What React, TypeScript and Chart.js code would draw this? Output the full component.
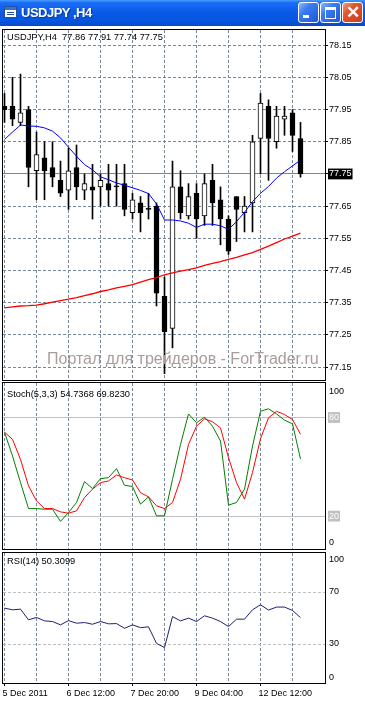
import React, { useEffect, useRef } from 'react';
import { Chart, registerables } from 'chart.js';

Chart.register(...registerables);

// ---------- data ----------
const dateLabels = ['5 Dec 2011', '6 Dec 12:00', '7 Dec 20:00', '9 Dec 04:00', '12 Dec 12:00'];
const dateLabelBars = [0, 8, 16, 24, 32];
const gridBars = [0, 4, 8, 12, 16, 20, 24, 28, 32, 36];

const opens = [77.96, 77.96, 77.91, 77.95, 77.76, 77.80, 77.77, 77.73, 77.70, 77.77, 77.70, 77.71, 77.71, 77.72, 77.71, 77.72, 77.63, 77.66, 77.64, 77.65, 77.37, 77.27, 77.71, 77.62, 77.69, 77.62, 77.73, 77.67, 77.61, 77.68, 77.63, 77.66, 77.86, 77.96, 77.85, 77.92, 77.94, 77.86];
const highs = [78.00, 78.05, 78.06, 77.96, 77.88, 77.85, 77.85, 77.79, 77.83, 77.84, 77.75, 77.78, 77.75, 77.78, 77.78, 77.78, 77.69, 77.68, 77.69, 77.66, 77.43, 77.79, 77.76, 77.72, 77.72, 77.75, 77.78, 77.71, 77.62, 77.68, 77.68, 77.87, 78.00, 77.98, 77.96, 77.96, 77.95, 77.91];
const lows = [77.91, 77.90, 77.90, 77.71, 77.67, 77.67, 77.71, 77.68, 77.64, 77.67, 77.67, 77.61, 77.65, 77.65, 77.65, 77.62, 77.61, 77.57, 77.61, 77.34, 77.13, 77.21, 77.61, 77.61, 77.55, 77.59, 77.59, 77.53, 77.50, 77.54, 77.57, 77.57, 77.75, 77.73, 77.83, 77.87, 77.82, 77.74];
const closes = [77.95, 77.92, 77.94, 77.77, 77.81, 77.76, 77.74, 77.69, 77.76, 77.71, 77.72, 77.70, 77.73, 77.70, 77.71, 77.64, 77.67, 77.63, 77.64, 77.38, 77.26, 77.71, 77.63, 77.68, 77.61, 77.72, 77.66, 77.61, 77.51, 77.64, 77.65, 77.85, 77.97, 77.86, 77.93, 77.93, 77.87, 77.75];

const maFast = [77.857, 77.880, 77.902, 77.899, 77.898, 77.893, 77.883, 77.862, 77.833, 77.805, 77.779, 77.763, 77.741, 77.732, 77.722, 77.715, 77.707, 77.699, 77.689, 77.657, 77.607, 77.607, 77.604, 77.597, 77.584, 77.594, 77.594, 77.589, 77.578, 77.602, 77.631, 77.664, 77.690, 77.711, 77.737, 77.757, 77.775, 77.793];
const maSlow = [77.334, 77.337, 77.340, 77.341, 77.343, 77.347, 77.352, 77.357, 77.361, 77.366, 77.372, 77.378, 77.385, 77.390, 77.396, 77.401, 77.406, 77.414, 77.422, 77.428, 77.437, 77.443, 77.448, 77.453, 77.458, 77.466, 77.472, 77.478, 77.485, 77.491, 77.499, 77.506, 77.516, 77.526, 77.537, 77.548, 77.557, 77.566];

const stochMain = [71, 56.6, 40.4, 24.6, 24.6, 24.2, 24.2, 16.8, 22.2, 28.3, 41, 36.8, 42.8, 43.4, 48.9, 38.8, 38, 27.3, 31.7, 20.2, 20.2, 42.4, 63.6, 82.2, 76.8, 80.2, 74.7, 65.7, 26.7, 28.3, 36.4, 62.6, 83.8, 85.3, 82.2, 78.4, 76.2, 54.7368];
const stochSignal = [71.1, 66.7, 54.5, 38.4, 29.3, 24.6, 24.6, 22.6, 21.8, 23.2, 31.3, 36.4, 40.4, 41.4, 45, 43.4, 42, 34.3, 31.7, 26.3, 24.6, 28.3, 42.4, 63.6, 74.7, 79.2, 77.4, 73.7, 55.6, 40.4, 30.3, 46.5, 67.1, 79.8, 83.8, 81.8, 78.8, 69.823];
const rsiValues = [57.6, 56.3, 56.8, 48.6, 50.4, 47.8, 47.3, 44.7, 48, 46, 46.5, 45.2, 47.3, 45.5, 45.7, 42.1, 44.7, 42.6, 43.2, 30.5, 27.2, 51.1, 47.8, 49.9, 47.3, 51.7, 49.9, 47.3, 43.4, 49.1, 49.1, 56.3, 60.2, 56.1, 58.4, 58.4, 55.8, 50.3099];

const priceTicks = [78.15, 78.05, 77.95, 77.85, 77.75, 77.65, 77.55, 77.45, 77.35, 77.25, 77.15];
const stochTicks = [0, 20, 80, 100];
const stochLevels = [20, 80];
const rsiTicks = [0, 30, 70, 100];
const rsiLevels = [30, 70];

const symbolTitle = 'USDJPY ,H4';
const mainLabel = 'USDJPY,H4  77.86 77.91 77.74 77.75';
const stochLabel = 'Stoch(5,3,3) 54.7368 69.8230';
const rsiLabel = 'RSI(14) 50.3099';
const watermark = 'Портал для трейдеров - ForTrader.ru';

// ---------- styling ----------
const FONT = '"Liberation Sans", Arial, sans-serif';
const GRID = '#778899';
const LEVEL = '#c0c0c0';
const X_MIN = -0.1875;
const X_MAX = 40.0625;
const lastClose = closes[closes.length - 1];

const frame = {
  id: 'frame',
  afterDraw(chart: any) {
    const { ctx, chartArea: a } = chart;
    ctx.save();
    ctx.strokeStyle = '#000';
    ctx.lineWidth = 1;
    ctx.strokeRect(a.left - 0.5, a.top - 0.5, a.right - a.left + 1, a.bottom - a.top + 1);
    ctx.restore();
  },
};

function zeroPad(s: any) {
  s.paddingTop = 0;
  s.paddingBottom = 0;
  s.paddingLeft = 0;
  s.paddingRight = 0;
}

function xScale(showLabels: boolean): any {
  return {
    type: 'linear',
    min: X_MIN,
    max: X_MAX,
    offset: false,
    afterBuildTicks: (s: any) => {
      s.ticks = gridBars.map((v) => ({ value: v }));
    },
    afterFit: (s: any) => {
      s.height = showLabels ? 20 : 0;
      zeroPad(s);
    },
    grid: {
      offset: false,
      color: GRID,
      lineWidth: 1,
      drawTicks: showLabels,
      tickLength: 3,
      tickBorderDash: [],
      tickColor: (c: any) => (c.tick && dateLabelBars.indexOf(c.tick.value) >= 0 ? '#000' : 'rgba(0,0,0,0)'),
    },
    border: { display: false, dash: [3, 2] },
    ticks: {
      display: showLabels,
      autoSkip: false,
      maxRotation: 0,
      minRotation: 0,
      align: 'start',
      labelOffset: -2,
      padding: 2,
      color: '#000',
      font: { family: FONT, size: 9 },
      callback: (v: any) => {
        const k = dateLabelBars.indexOf(v);
        return k >= 0 ? dateLabels[k] : '';
      },
    },
  };
}

function pts(arr: number[]) {
  return arr.map((y, i) => ({ x: i, y }));
}

const baseOptions: any = {
  responsive: false,
  animation: false,
  events: [],
  plugins: { legend: { display: false }, tooltip: { enabled: false }, title: { display: false } },
};

function mainConfig(): any {
  return {
    type: 'bar',
    data: {
      datasets: [
        {
          type: 'line',
          data: pts(maFast),
          borderColor: '#0000ff',
          borderWidth: 1,
          pointRadius: 0,
          tension: 0,
          order: 0,
        },
        {
          type: 'line',
          data: pts(maSlow),
          borderColor: '#ff0000',
          borderWidth: 1.3,
          pointRadius: 0,
          tension: 0,
          order: 0,
        },
        {
          type: 'bar',
          data: opens.map((o, i) => ({ x: i, y: [o, closes[i]] })),
          backgroundColor: (c: any) => (closes[c.dataIndex] > opens[c.dataIndex] ? '#ffffff' : '#000000'),
          borderColor: '#000',
          borderWidth: 1,
          borderSkipped: false,
          barThickness: 5,
          minBarLength: 1,
          grouped: false,
          order: 1,
        },
        {
          type: 'bar',
          data: lows.map((l, i) => ({ x: i, y: [l, highs[i]] })),
          backgroundColor: '#000',
          borderWidth: 0,
          barThickness: 1,
          grouped: false,
          order: 2,
        },
      ],
    },
    options: {
      ...baseOptions,
      layout: { autoPadding: false, padding: { top: 30, left: 3, right: 0, bottom: 2 } },
      scales: {
        x: xScale(false),
        y: {
          type: 'linear',
          position: 'right',
          min: 77.1102,
          max: 78.197,
          afterBuildTicks: (s: any) => {
            s.ticks = priceTicks.map((v) => ({ value: v }));
          },
          afterFit: (s: any) => {
            s.width = 40;
            zeroPad(s);
          },
          grid: {
            color: GRID,
            lineWidth: 1,
            drawTicks: true,
            tickLength: 3,
            tickColor: '#000',
            tickBorderDash: [],
          },
          border: {
            display: false,
            dash: (c: any) => (c.tick && c.tick.value === lastClose ? [] : [3, 2]),
          },
          ticks: {
            autoSkip: false,
            padding: 1,
            color: (c: any) => (c.tick && c.tick.value === lastClose ? '#ffffff' : '#000000'),
            showLabelBackdrop: (c: any) => !!c.tick && c.tick.value === lastClose,
            backdropColor: '#000',
            backdropPadding: { top: 0, bottom: 0, left: 1, right: 1 },
            font: { family: FONT, size: 9 },
            callback: (v: any) => Number(v).toFixed(2),
          },
        },
      },
    },
    plugins: [frame],
  };
}

function oscScale(ticks: number[], levels: number[], min: number, max: number, solidLevels: boolean, shifts: Record<string, number>, boxed: boolean): any {
  return {
    type: 'linear',
    position: 'right',
    min,
    max,
    afterBuildTicks: (s: any) => {
      s.ticks = ticks.map((v) => ({ value: v }));
    },
    afterFit: (s: any) => {
      s.width = 40;
      zeroPad(s);
    },
    grid: {
      color: (c: any) => (c.tick && levels.indexOf(c.tick.value) >= 0 ? LEVEL : 'rgba(0,0,0,0)'),
      lineWidth: 1,
      drawTicks: true,
      tickLength: 3,
      tickColor: 'rgba(0,0,0,0)',
    },
    border: { display: false, dash: solidLevels ? [] : [3, 2] },
    ticks: {
      autoSkip: false,
      padding: 1,
      color: (c: any) => (boxed && c.tick && levels.indexOf(c.tick.value) >= 0 ? '#ffffff' : '#000000'),
      showLabelBackdrop: (c: any) => boxed && !!c.tick && levels.indexOf(c.tick.value) >= 0,
      backdropColor: LEVEL,
      backdropPadding: { top: 0, bottom: 0, left: 1, right: 1 },
      font: (c: any) => {
        const v = c.tick ? c.tick.value : null;
        const sh = v !== null && shifts[String(v)] !== undefined ? Math.abs(shifts[String(v)]) * 2 : 0;
        return { family: FONT, size: 9, lineHeight: sh ? sh + 'px' : 1.2 };
      },
      callback: (v: any) => {
        const sh = shifts[String(v)];
        if (sh === undefined) return String(v);
        return sh > 0 ? ['', String(v)] : [String(v), ''];
      },
    },
  };
}

function stochConfig(): any {
  return {
    type: 'line',
    data: {
      datasets: [
        { data: pts(stochSignal), borderColor: '#ff0000', borderWidth: 1, pointRadius: 0, tension: 0, order: 0 },
        { data: pts(stochMain), borderColor: '#008000', borderWidth: 1, pointRadius: 0, tension: 0, order: 1 },
      ],
    },
    options: {
      ...baseOptions,
      layout: { autoPadding: false, padding: { top: 2, left: 3, right: 0, bottom: 2 } },
      scales: {
        x: xScale(false),
        y: oscScale(stochTicks, stochLevels, 0, 101, true, { '100': 6.5, '0': -6 }, true),
      },
    },
    plugins: [frame],
  };
}

function rsiConfig(): any {
  return {
    type: 'line',
    data: {
      datasets: [
        { data: pts(rsiValues), borderColor: '#1e1e78', borderWidth: 1, pointRadius: 0, tension: 0 },
      ],
    },
    options: {
      ...baseOptions,
      layout: { autoPadding: false, padding: { top: 2, left: 3, right: 0, bottom: 0 } },
      scales: {
        x: xScale(true),
        y: oscScale(rsiTicks, rsiLevels, 0, 100, false, { '100': 7, '0': -5.5 }, false),
      },
    },
    plugins: [frame],
  };
}

const textStyle: React.CSSProperties = {
  position: 'absolute',
  fontFamily: FONT,
  fontSize: 9.3,
  lineHeight: '11px',
  color: '#000',
  whiteSpace: 'pre',
  zIndex: 2,
};

function TitleButton({ kind, left }: { kind: 'min' | 'max' | 'close'; left: number }) {
  const isClose = kind === 'close';
  return (
    <div
      style={{
        position: 'absolute',
        left,
        top: 2,
        width: 19,
        height: 19,
        border: '1px solid #ffffff',
        borderRadius: 3,
        background: isClose
          ? 'linear-gradient(135deg, #f0a080 0%, #e2552d 35%, #c9401e 100%)'
          : 'linear-gradient(135deg, #8fb8ff 0%, #3b7cf2 35%, #1d57d8 100%)',
        boxSizing: 'content-box',
      }}
    >
      {kind === 'min' && (
        <div style={{ position: 'absolute', left: 4, top: 12, width: 6, height: 3, background: '#fff' }} />
      )}
      {kind === 'max' && (
        <div
          style={{
            position: 'absolute',
            left: 4,
            top: 4,
            width: 9,
            height: 8,
            borderTop: '3px solid #fff',
            borderLeft: '1px solid #fff',
            borderRight: '1px solid #fff',
            borderBottom: '1px solid #fff',
          }}
        />
      )}
      {kind === 'close' && (
        <div
          style={{
            position: 'absolute',
            left: 0,
            top: 0,
            width: 19,
            height: 19,
            color: '#fff',
            fontFamily: FONT,
            fontWeight: 'bold',
            fontSize: 17,
            lineHeight: '19px',
            textAlign: 'center',
          }}
        >
          {'\u2715'}
        </div>
      )}
    </div>
  );
}

export default function App() {
  const mainRef = useRef<HTMLCanvasElement>(null);
  const stochRef = useRef<HTMLCanvasElement>(null);
  const rsiRef = useRef<HTMLCanvasElement>(null);

  useEffect(() => {
    Chart.defaults.font.family = FONT;
    Chart.defaults.font.size = 9;
    Chart.defaults.color = '#000';
    const charts = [
      new Chart(mainRef.current as HTMLCanvasElement, mainConfig()),
      new Chart(stochRef.current as HTMLCanvasElement, stochConfig()),
      new Chart(rsiRef.current as HTMLCanvasElement, rsiConfig()),
    ];
    return () => charts.forEach((c) => c.destroy());
  }, []);

  return (
    <div
      style={{
        position: 'fixed',
        left: 0,
        top: 0,
        width: 365,
        height: 703,
        background: '#ffffff',
        overflow: 'hidden',
      }}
    >
      <canvas ref={mainRef} width={365} height={382} style={{ position: 'absolute', left: 0, top: 0 }} />
      <canvas ref={stochRef} width={365} height={170} style={{ position: 'absolute', left: 0, top: 381 }} />
      <canvas ref={rsiRef} width={365} height={152} style={{ position: 'absolute', left: 0, top: 551 }} />

      {/* title bar */}
      <div
        style={{
          position: 'absolute',
          left: 0,
          top: 0,
          width: 365,
          height: 26,
          background: 'linear-gradient(to bottom, #4a9cff 0%, #1c6ef5 10%, #0a5ae8 45%, #0655e0 80%, #0a49c4 100%)',
          zIndex: 3,
        }}
      >
        <div
          style={{
            position: 'absolute',
            left: 4,
            top: 6,
            width: 13,
            height: 12,
            background: '#ffffff',
            border: '1px solid #2050a0',
            boxSizing: 'border-box',
          }}
        >
          <div style={{ position: 'absolute', left: 0, top: 0, width: 11, height: 3, background: '#4070c0' }} />
          <div style={{ position: 'absolute', left: 2, top: 5, width: 7, height: 1, background: '#2050a0' }} />
          <div style={{ position: 'absolute', left: 2, top: 7, width: 7, height: 1, background: '#2050a0' }} />
        </div>
        <div
          style={{
            position: 'absolute',
            left: 21,
            top: 5,
            color: '#ffffff',
            fontFamily: FONT,
            fontWeight: 'bold',
            fontSize: 13,
            letterSpacing: '-0.5px',
            lineHeight: '15px',
            whiteSpace: 'pre',
            textShadow: '1px 1px 0 #0a3a9a',
          }}
        >
          {symbolTitle}
        </div>
        <TitleButton kind="min" left={298} />
        <TitleButton kind="max" left={320} />
        <TitleButton kind="close" left={342} />
      </div>

      <div style={{ ...textStyle, left: 7, top: 32 }}>{mainLabel}</div>
      <div style={{ ...textStyle, left: 7, top: 389 }}>{stochLabel}</div>
      <div style={{ ...textStyle, left: 7, top: 556 }}>{rsiLabel}</div>
      <div
        style={{
          position: 'absolute',
          left: 47,
          top: 351,
          fontFamily: FONT,
          fontSize: 16,
          lineHeight: '16px',
          color: '#a99c9c',
          whiteSpace: 'pre',
          zIndex: 2,
        }}
      >
        {watermark}
      </div>
    </div>
  );
}
